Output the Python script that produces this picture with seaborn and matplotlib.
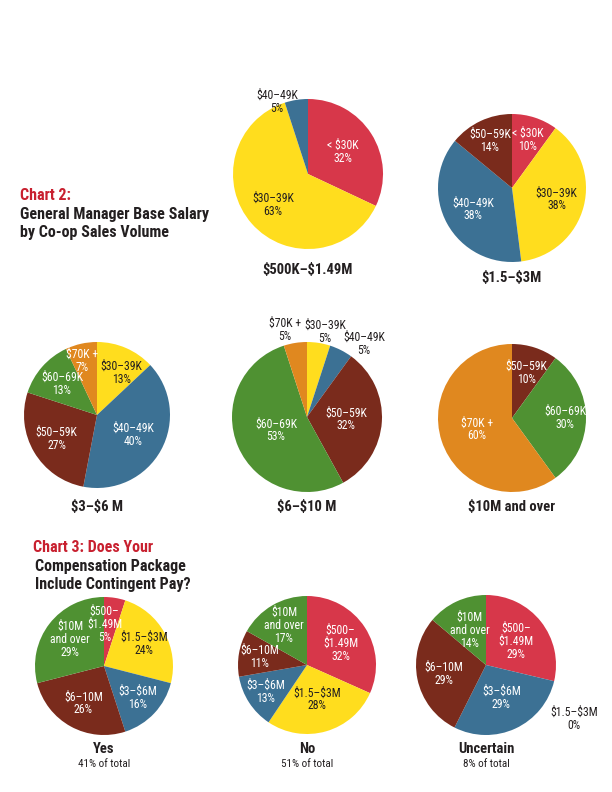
import numpy as np
import seaborn as sns
import matplotlib.pyplot as plt

# ---- Data -------------------------------------------------------------
# Chart 2: GM base salary by co-op sales volume
volume_titles = ["$500K–$1.49M", "$1.5–$3M", "$3–$6 M", "$6–$10 M", "$10M and over"]

salary_500k = ["< $30K", "$30–39K", "$40–49K"]
values_500k = [32, 63, 5]

salary_1_5m = ["< $30K", "$30–39K", "$40–49K", "$50–59K"]
values_1_5m = [10, 38, 38, 14]

salary_3m = ["$30–39K", "$40–49K", "$50–59K", "$60–69K", "$70K +"]
values_3m = [13, 40, 27, 13, 7]

salary_6m = ["$30–39K", "$40–49K", "$50–59K", "$60–69K", "$70K +"]
values_6m = [5, 5, 32, 53, 5]

salary_10m = ["$50–59K", "$60–69K", "$70K +"]
values_10m = [10, 30, 60]

# Chart 3: contingent pay, split by sales volume
answer_titles = ["Yes", "No", "Uncertain"]
answer_shares = ["41% of total", "51% of total", "8% of total"]
volume_cats = ["$500–\n$1.49M", "$1.5–$3M", "$3–$6M", "$6–10M", "$10M\nand over"]
values_yes = [5, 24, 16, 26, 29]
values_no = [32, 28, 13, 11, 17]
values_uncertain = [29, 0, 29, 29, 14]

# ---- Style ------------------------------------------------------------
sns.set_theme(style="white")
FONT = ["Roboto Condensed", "DejaVu Sans"]
plt.rcParams["font.family"] = FONT
plt.rcParams["font.stretch"] = "condensed"

RED = "#D7374A"
YELLOW = "#FFDD1E"
BLUE = "#3C7194"
BROWN = "#7A2B1C"
GREEN = "#4F9132"
ORANGE = "#E0881F"
DARK = "#231F20"

salary_colors = {"< $30K": RED, "$30–39K": YELLOW, "$40–49K": BLUE,
                 "$50–59K": BROWN, "$60–69K": GREEN, "$70K +": ORANGE}
volume_colors = [RED, YELLOW, BLUE, BROWN, GREEN]

W, H = 612, 792
fig = plt.figure(figsize=(W / 100, H / 100), dpi=100)
fig.patch.set_facecolor("white")


def esc(s):
    return s.replace("$", r"\$")


def draw_pie(cx, cy, r, labels, values, colors, dists, shifts=None):
    """Pie centred at pixel (cx, cy) with pixel radius r; labels as wedge text."""
    ax = fig.add_axes([(cx - r) / W, 1 - (cy + r) / H, 2 * r / W, 2 * r / H])
    wedges, _ = ax.pie(values, colors=colors, startangle=90, counterclock=False,
                       radius=1, wedgeprops=dict(linewidth=0))
    shifts = shifts or [0] * len(values)
    for w, lab, v, d, s, c in zip(wedges, labels, values, dists, shifts, colors):
        ang = np.deg2rad((w.theta1 + w.theta2) / 2 + s)
        inside = d < 1
        tc = DARK if (not inside or c == YELLOW) else "white"
        ax.text(d * np.cos(ang), d * np.sin(ang), esc(f"{lab}\n{v}%"),
                ha="center", va="center", fontsize=8.5, color=tc,
                linespacing=1.0, family=FONT, fontstretch="condensed")
    ax.set_xlim(-1, 1)
    ax.set_ylim(-1, 1)
    ax.set_aspect("equal")
    ax.axis("off")
    return ax


def fig_text(x, y, s, **kw):
    fig.text(x / W, 1 - y / H, esc(s), family=FONT, fontstretch="condensed", **kw)


# ---- Chart 2 ----------------------------------------------------------
fig_text(20, 196, "Chart 2:", fontsize=11.5, fontweight="bold", color="#C8202F", va="center")
fig_text(20, 214, "General Manager Base Salary", fontsize=11.5, fontweight="bold", color=DARK, va="center")
fig_text(20, 233, "by Co-op Sales Volume", fontsize=11.5, fontweight="bold", color=DARK, va="center")

draw_pie(308, 174, 75, salary_500k, values_500k,
         [salary_colors[s] for s in salary_500k], [0.55, 0.62, 1.05], [0, 0, 14])
draw_pie(512, 188, 74, salary_1_5m, values_1_5m,
         [salary_colors[s] for s in salary_1_5m], [0.68, 0.62, 0.6, 0.7])
draw_pie(97, 415, 73, salary_3m, values_3m,
         [salary_colors[s] for s in salary_3m], [0.67, 0.57, 0.64, 0.64, 0.77],
         [-7, 0, 0, 0, 3])
draw_pie(307, 417, 75, salary_6m, values_6m,
         [salary_colors[s] for s in salary_6m], [1.16, 1.24, 0.52, 0.45, 1.2], [-3, -11, 0, 0, 5])
draw_pie(512, 418, 74, salary_10m, values_10m,
         [salary_colors[s] for s in salary_10m], [0.64, 0.72, 0.5])

for (x, y), t in zip([(308, 270), (512, 278), (97, 507), (307, 507), (512, 507)], volume_titles):
    fig_text(x, y, t, fontsize=10.5, fontweight="bold", color=DARK, ha="center", va="center")

# ---- Chart 3 ----------------------------------------------------------
fig_text(33, 547, "Chart 3: Does Your", fontsize=11.5, fontweight="bold", color="#C8202F", va="center")
fig_text(35, 566, "Compensation Package", fontsize=11.5, fontweight="bold", color=DARK, va="center")
fig_text(35, 585, "Include Contingent Pay?", fontsize=11.5, fontweight="bold", color=DARK, va="center")

draw_pie(104, 666, 69, volume_cats, values_yes, volume_colors,
         [0.6, 0.66, 0.67, 0.62, 0.62], [8, 0, 0, 0, 0])
draw_pie(307, 665, 69, volume_cats, values_no, volume_colors,
         [0.58, 0.52, 0.72, 0.7, 0.66])
draw_pie(486, 665, 70, volume_cats, values_uncertain, volume_colors,
         [0.55, 1.47, 0.52, 0.61, 0.55], [0, -18, 0, 0, 0])

for x, t, s in zip([104, 307, 486], answer_titles, answer_shares):
    fig_text(x, 749, t, fontsize=10.5, fontweight="bold", color=DARK, ha="center", va="center")
    fig_text(x, 764, s, fontsize=8, color=DARK, ha="center", va="center")

fig.savefig("out.png", dpi=100, facecolor="white")
